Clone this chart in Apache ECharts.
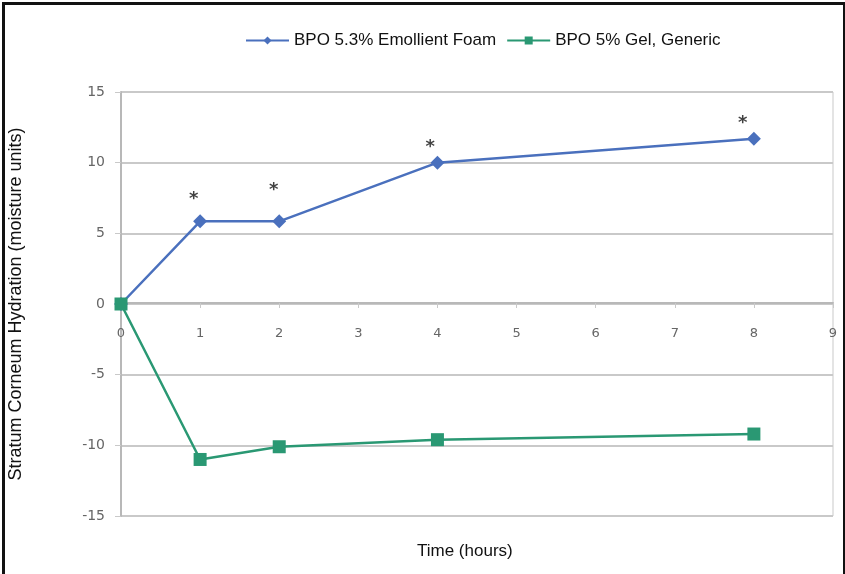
<!DOCTYPE html>
<html>
<head>
<meta charset="utf-8">
<script src="https://cdn.jsdelivr.net/npm/echarts@6/dist/echarts.min.js"></script>
<style>
  html, body { margin: 0; padding: 0; background: #fff; }
  #frame { position: absolute; left: 2px; top: 2px; width: 838px; height: 580px;
           border: 3px solid #111; border-bottom: none; }
  #main { position: absolute; left: 0; top: 0; width: 845px; height: 574px; }
</style>
</head>
<body>
<div id="frame"></div>
<div id="main"></div>
<script>
var hours = [0, 1, 2, 4, 8];
var foam = [0, 5.85, 5.85, 10.0, 11.7];
var gel = [0, -11.0, -10.1, -9.6, -9.2];
// significance markers (asterisks) placed above the foam points
var starX = [0.92, 1.93, 3.91, 7.86];
var starY = [7.7, 8.3, 11.4, 13.1];

var chartDom = document.getElementById('main');
var myChart = echarts.init(chartDom);
var option;

var labelFont = 'DejaVu Sans';
var titleFont = '"Liberation Sans", Arial';

option = {
  color: ['#4a70bd', '#2a9873'],
  grid: {
    left: 121,
    right: 12,
    top: 92,
    bottom: 58,
    containLabel: false,
    outerBoundsMode: 'none',
    show: true,
    borderColor: '#c9c9c9',
    borderWidth: 1
  },
  legend: {
    top: 27,
    left: 240,
    itemWidth: 43,
    itemHeight: 10,
    itemGap: 10,
    data: ['BPO 5.3% Emollient Foam', 'BPO 5% Gel, Generic'],
    textStyle: { fontFamily: titleFont, fontSize: 17, color: '#111' }
  },
  xAxis: {
    type: 'value',
    min: 0,
    max: 9,
    interval: 1,
    offset: -213,
    axisLine: { onZero: false, lineStyle: { color: '#b8b8b8', width: 2 } },
    axisTick: { show: true, length: 5, lineStyle: { color: '#c9c9c9' } },
    axisLabel: { fontFamily: labelFont, fontSize: 13, color: '#666', margin: 24 },
    splitLine: { show: false }
  },
  yAxis: {
    type: 'value',
    min: -15,
    max: 15,
    interval: 5,
    name: 'Stratum Corneum Hydration (moisture units)',
    nameLocation: 'middle',
    nameGap: 96,
    nameTextStyle: { fontFamily: titleFont, fontSize: 18, color: '#111' },
    axisLine: { show: true, lineStyle: { color: '#b8b8b8', width: 2 } },
    axisTick: { show: true, length: 6, lineStyle: { color: '#c9c9c9' } },
    axisLabel: { fontFamily: labelFont, fontSize: 14, color: '#666', margin: 16 },
    splitLine: { show: true, lineStyle: { color: '#c9c9c9', width: 2 } }
  },
  graphic: [
    {
      type: 'text',
      left: 417,
      top: 543,
      style: { text: 'Time (hours)', font: '17px "Liberation Sans", Arial', fill: '#111' }
    }
  ],
  series: [
    {
      name: 'BPO 5.3% Emollient Foam',
      type: 'line',
      data: hours.map(function (h, i) { return [h, foam[i]]; }),
      symbol: 'diamond',
      symbolSize: 14,
      lineStyle: { width: 2.5 },
      z: 2
    },
    {
      name: 'BPO 5% Gel, Generic',
      type: 'line',
      data: hours.map(function (h, i) { return [h, gel[i]]; }),
      symbol: 'rect',
      symbolSize: 13,
      lineStyle: { width: 2.5 },
      z: 3
    },
    {
      name: 'sig',
      type: 'scatter',
      data: starX.map(function (x, i) { return [x, starY[i]]; }),
      symbolSize: 1,
      itemStyle: { color: 'rgba(0,0,0,0)' },
      label: {
        show: true,
        position: 'inside',
        formatter: '*',
        fontFamily: 'DejaVu Sans',
        fontSize: 18,
        fontWeight: 'bold',
        color: '#111',
        offset: [0, 4]
      },
      silent: true
    }
  ]
};

option && myChart.setOption(option);
window.addEventListener("resize", function() {
  myChart.resize();
});
</script>
</body>
</html>
